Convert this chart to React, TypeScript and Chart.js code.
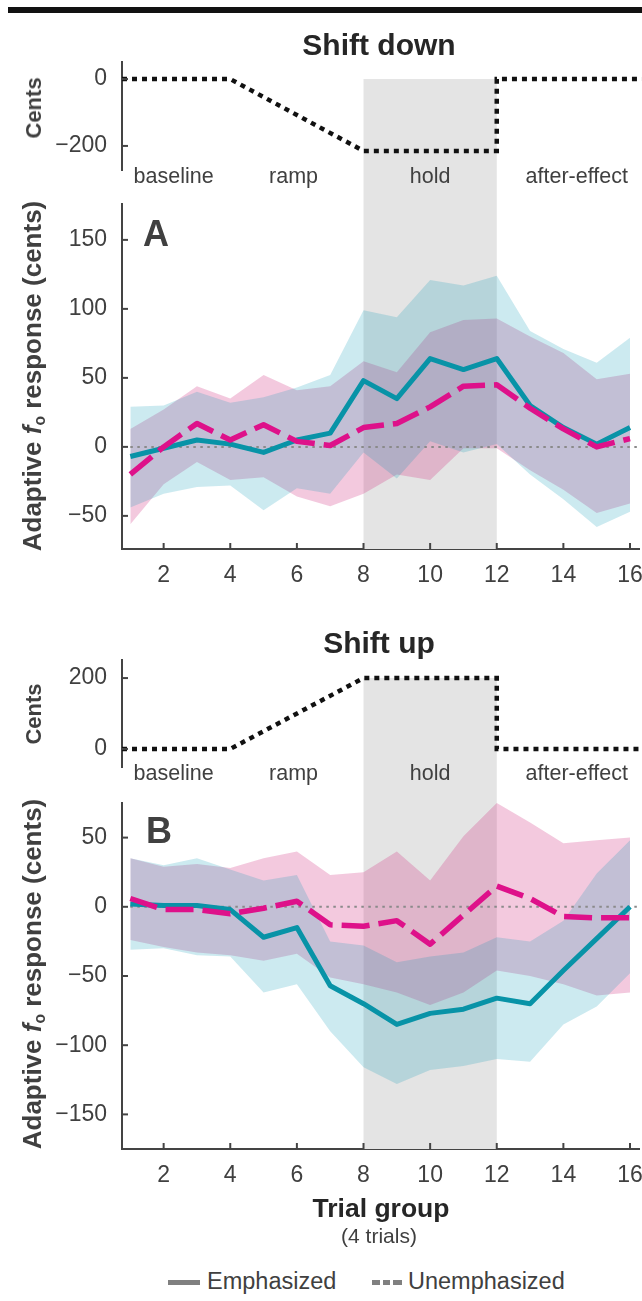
import React, { useEffect, useRef } from "react";
import { Chart, registerables } from "chart.js";

Chart.register(...registerables);

// ---------------- data ----------------
const trialGroups = [1, 2, 3, 4, 5, 6, 7, 8, 9, 10, 11, 12, 13, 14, 15, 16];
const xTickValues = [2, 4, 6, 8, 10, 12, 14, 16];

// Shift down (panel A)
const downEmphMean = [-7, -1, 5, 2, -4, 5, 10, 48, 35, 64, 56, 64, 30, 14, 2, 14];
const downEmphUpper = [29, 30, 40, 32, 36, 43, 52, 99, 94, 121, 117, 124, 84, 71, 61, 79];
const downEmphLower = [-44, -34, -29, -28, -46, -30, -34, -4, -23, 4, -4, 2, -20, -38, -58, -47];
const downUnemMean = [-20, 0, 17, 5, 16, 4, 1, 14, 17, 29, 44, 45, 28, 13, 0, 6];
const downUnemUpper = [13, 27, 44, 35, 52, 41, 44, 62, 54, 83, 92, 93, 80, 68, 49, 53];
const downUnemLower = [-56, -27, -11, -24, -22, -36, -43, -34, -20, -24, -1, -1, -17, -31, -48, -41];

// Shift up (panel B)
const upEmphMean = [2, 1, 1, -2, -22, -15, -57, -70, -85, -77, -74, -66, -70, -46, -23, 0];
const upEmphUpper = [35, 30, 35, 27, 19, 23, -25, -28, -40, -36, -33, -22, -25, -10, 24, 48];
const upEmphLower = [-31, -30, -35, -36, -62, -56, -90, -116, -128, -118, -115, -110, -112, -85, -72, -48];
const upUnemMean = [6, -2, -2, -5, -1, 4, -13, -14, -10, -27, -6, 15, 6, -7, -8, -8];
const upUnemUpper = [35, 29, 31, 28, 35, 40, 23, 25, 40, 19, 51, 75, 61, 46, 48, 50];
const upUnemLower = [-24, -29, -33, -35, -39, -34, -51, -56, -62, -71, -62, -46, -50, -56, -64, -62];

// perturbation schedule (cents)
const pertX = [0.75, 4, 8, 12, 12, 16.4];
const pertDownCents = [0, 0, -215, -215, 0, 0];
const pertUpCents = [0, 0, 200, 200, 0, 0];
const pertDownTicks = [-200, 0];
const pertUpTicks = [0, 200];

const phaseNames = ["baseline", "ramp", "hold", "after-effect"];
const phaseCenters = [2.3, 5.9, 10, 14.4];
const HOLD_START = 8;
const HOLD_END = 12;

const responseTicksDown = [-50, 0, 50, 100, 150];
const responseTicksUp = [-150, -100, -50, 0, 50];

const zeroLineX = [1, 16.27];
const zeroLineY = [0, 0];

// ---------------- style ----------------
const FONT = '"Liberation Sans", Arial, Helvetica, sans-serif';
const TEXT = "#404040";
const TITLE = "#262626";
const AXIS = "#444444";
const TEAL = "#0893A7";
const MAGENTA = "#DE118A";
const TEAL_BAND = "rgba(0,150,180,0.2)";
const PINK_BAND = "rgba(207,39,123,0.25)";
const HOLD_GRAY = "#E4E4E4";
const X_MIN = 0.75;
const X_MAX = 16.27;
const AXIS_LEFT = 122;
const TICK_FONT = { family: FONT, size: 23 };

const minusFmt = (v: any) => {
  const n = Number(v);
  return n < 0 ? "\u2212" + Math.abs(n) : String(n);
};

const pts = (xs: number[], ys: number[]) => xs.map((x, i) => ({ x, y: ys[i] }));

function holdShade(fromValue: number | null, toCanvasBottom: boolean) {
  return {
    id: "holdShade",
    beforeDatasetsDraw(chart: any) {
      const { ctx, chartArea } = chart;
      const xs = chart.scales.x;
      const ys = chart.scales.y;
      const x0 = xs.getPixelForValue(HOLD_START);
      const x1 = xs.getPixelForValue(HOLD_END);
      const top = fromValue === null ? 0 : ys.getPixelForValue(fromValue);
      const bottom = toCanvasBottom ? chart.height : chartArea.bottom;
      ctx.save();
      ctx.fillStyle = HOLD_GRAY;
      ctx.fillRect(x0, top, x1 - x0, bottom - top);
      ctx.restore();
    },
  };
}

function inwardTicks(withX: boolean) {
  return {
    id: "inwardTicks",
    afterDatasetsDraw(chart: any) {
      const { ctx, chartArea } = chart;
      ctx.save();
      ctx.strokeStyle = AXIS;
      ctx.lineWidth = 2;
      const ys = chart.scales.y;
      ys.ticks.forEach((_t: any, i: number) => {
        const p = ys.getPixelForTick(i);
        ctx.beginPath();
        ctx.moveTo(chartArea.left, p);
        ctx.lineTo(chartArea.left + 6, p);
        ctx.stroke();
      });
      if (withX) {
        const xs = chart.scales.x;
        xs.ticks.forEach((_t: any, i: number) => {
          const p = xs.getPixelForTick(i);
          ctx.beginPath();
          ctx.moveTo(p, chartArea.bottom);
          ctx.lineTo(p, chartArea.bottom - 6);
          ctx.stroke();
        });
      }
      ctx.restore();
    },
  };
}

const phaseLabels = {
  id: "phaseLabels",
  afterDraw(chart: any) {
    const { ctx, chartArea } = chart;
    const xs = chart.scales.x;
    ctx.save();
    ctx.font = `21.5px ${FONT}`;
    ctx.fillStyle = TEXT;
    ctx.textAlign = "center";
    ctx.textBaseline = "alphabetic";
    phaseNames.forEach((n, i) => {
      ctx.fillText(n, xs.getPixelForValue(phaseCenters[i]), chartArea.bottom + 13);
    });
    ctx.restore();
  },
};

function yScale(min: number, max: number, ticks: number[]) {
  return {
    type: "linear",
    min,
    max,
    afterBuildTicks: (s: any) => {
      s.ticks = ticks.map((v) => ({ value: v }));
    },
    afterFit: (s: any) => {
      s.width = AXIS_LEFT;
      s.paddingTop = 0;
      s.paddingBottom = 0;
    },
    grid: { display: false },
    border: { display: true, color: AXIS, width: 2 },
    ticks: { font: TICK_FONT, color: TEXT, padding: 7, callback: minusFmt },
  };
}

function makePert(canvas: HTMLCanvasElement, pertY: number[], range: number[], ticks: number[], padTop: number, padBottom: number) {
  return new Chart(canvas, {
    type: "line",
    data: {
      datasets: [
        {
          label: "Perturbation",
          data: pts(pertX, pertY),
          borderColor: "#111111",
          borderWidth: 4.5,
          borderDash: [5, 5],
          pointRadius: 0,
          fill: false,
          clip: false,
          tension: 0,
        } as any,
      ],
    },
    options: {
      responsive: false,
      animation: false,
      events: [],
      layout: { padding: { top: padTop, bottom: padBottom, left: 0, right: 3 } },
      plugins: { legend: { display: false }, tooltip: { enabled: false } },
      scales: {
        x: { type: "linear", display: false, min: X_MIN, max: X_MAX },
        y: yScale(range[0], range[1], ticks) as any,
      },
    },
    plugins: [holdShade(Math.max(...pertY), true), inwardTicks(false), phaseLabels],
  });
}

function makeMain(
  canvas: HTMLCanvasElement,
  emMean: number[], emUp: number[], emLo: number[],
  unMean: number[], unUp: number[], unLo: number[],
  range: number[], ticks: number[]
) {
  const band = (data: number[], color: string, fill: any) => ({
    data: pts(trialGroups, data),
    borderColor: "rgba(0,0,0,0)",
    borderWidth: 0,
    pointRadius: 0,
    backgroundColor: color,
    fill,
    tension: 0,
  });
  return new Chart(canvas, {
    type: "line",
    data: {
      datasets: [
        {
          label: "Unemphasized",
          data: pts(trialGroups, unMean),
          borderColor: MAGENTA,
          borderWidth: 5.5,
          borderDash: [28, 9],
          borderCapStyle: "butt",
          borderJoinStyle: "round",
          pointRadius: 0,
          fill: false,
          tension: 0,
        },
        {
          label: "Emphasized",
          data: pts(trialGroups, emMean),
          borderColor: TEAL,
          borderWidth: 5,
          borderJoinStyle: "round",
          pointRadius: 0,
          fill: false,
          tension: 0,
        },
        {
          label: "zero",
          data: pts(zeroLineX, zeroLineY),
          borderColor: "#8a8a8a",
          borderWidth: 2,
          borderDash: [2.5, 4.5],
          pointRadius: 0,
          fill: false,
        },
        { label: "Emphasized CI upper", ...band(emUp, TEAL_BAND, "+1") },
        { label: "Emphasized CI lower", ...band(emLo, "rgba(0,0,0,0)", false) },
        { label: "Unemphasized CI upper", ...band(unUp, PINK_BAND, "+1") },
        { label: "Unemphasized CI lower", ...band(unLo, "rgba(0,0,0,0)", false) },
      ] as any,
    },
    options: {
      responsive: false,
      animation: false,
      events: [],
      layout: { padding: { top: 8, bottom: 0, left: 0, right: 3 } },
      plugins: { legend: { display: false }, tooltip: { enabled: false } },
      scales: {
        x: {
          type: "linear",
          min: X_MIN,
          max: X_MAX,
          afterBuildTicks: (s: any) => {
            s.ticks = xTickValues.map((v) => ({ value: v }));
          },
          afterFit: (s: any) => {
            s.height = 47;
            s.paddingLeft = 0;
            s.paddingRight = 0;
          },
          grid: { display: false },
          border: { display: true, color: AXIS, width: 2 },
          ticks: { font: TICK_FONT, color: TEXT, padding: 5, maxRotation: 0, autoSkip: false },
        } as any,
        y: yScale(range[0], range[1], ticks) as any,
      },
    },
    plugins: [holdShade(null, false), inwardTicks(true)],
  });
}

// ---------------- layout ----------------
const PERT_A = { top: 56, h: 140 };
const MAIN_A = { top: 196, h: 400 };
const PERT_B = { top: 655, h: 140 };
const MAIN_B = { top: 795, h: 401 };

function Label(props: { x: number; y: number; size: number; bold?: boolean; color?: string; children: any }) {
  const { x, y, size, bold, color, children } = props;
  return (
    <div
      style={{
        position: "absolute",
        left: x,
        top: y - 0.846 * size,
        transform: "translateX(-50%)",
        fontSize: size,
        fontWeight: bold ? 700 : 400,
        lineHeight: 1,
        whiteSpace: "nowrap",
        color: color || TEXT,
      }}
    >
      {children}
    </div>
  );
}

function VLabel(props: { x: number; y: number; size: number; children: any }) {
  const { x, y, size, children } = props;
  return (
    <div
      style={{
        position: "absolute",
        left: x,
        top: y,
        transform: "translate(-50%, -50%) rotate(-90deg)",
        fontSize: size,
        fontWeight: 700,
        lineHeight: 1,
        whiteSpace: "nowrap",
        color: TEXT,
      }}
    >
      {children}
    </div>
  );
}

const canvasStyle = (top: number, h: number): React.CSSProperties => ({
  position: "absolute",
  left: 0,
  top,
  width: 642,
  height: h,
});

export default function App() {
  const pertARef = useRef<HTMLCanvasElement>(null);
  const mainARef = useRef<HTMLCanvasElement>(null);
  const pertBRef = useRef<HTMLCanvasElement>(null);
  const mainBRef = useRef<HTMLCanvasElement>(null);

  useEffect(() => {
    const charts = [
      makePert(pertARef.current!, pertDownCents, [-272, 51], pertDownTicks, 6, 26),
      makeMain(mainARef.current!, downEmphMean, downEmphUpper, downEmphLower, downUnemMean, downUnemUpper, downUnemLower, [-74, 176], responseTicksDown),
      makePert(pertBRef.current!, pertUpCents, [-51, 251], pertUpTicks, 5, 28),
      makeMain(mainBRef.current!, upEmphMean, upEmphUpper, upEmphLower, upUnemMean, upUnemUpper, upUnemLower, [-175, 75], responseTicksUp),
    ];
    return () => charts.forEach((c) => c.destroy());
  }, []);

  const yTitle = (
    <>
      Adaptive <i>f</i>
      <sub style={{ fontSize: "0.6em", verticalAlign: "-0.25em" }}>o</sub> response (cents)
    </>
  );

  const sample = (left: number, width: number): React.CSSProperties => ({
    position: "absolute",
    left,
    top: 1279.5,
    width,
    height: 5,
    background: "#808080",
  });

  return (
    <div
      style={{
        position: "absolute",
        left: 0,
        top: 0,
        width: 642,
        height: 1301,
        background: "#ffffff",
        fontFamily: FONT,
        overflow: "hidden",
      }}
    >
      <div style={{ position: "absolute", left: 8, top: 7, width: 634, height: 6, background: "#111" }} />

      <canvas ref={pertARef} width={642} height={PERT_A.h} style={canvasStyle(PERT_A.top, PERT_A.h)} />
      <canvas ref={mainARef} width={642} height={MAIN_A.h} style={canvasStyle(MAIN_A.top, MAIN_A.h)} />
      <canvas ref={pertBRef} width={642} height={PERT_B.h} style={canvasStyle(PERT_B.top, PERT_B.h)} />
      <canvas ref={mainBRef} width={642} height={MAIN_B.h} style={canvasStyle(MAIN_B.top, MAIN_B.h)} />

      <Label x={379} y={55} size={30} bold color={TITLE}>Shift down</Label>
      <Label x={379} y={653} size={30} bold color={TITLE}>Shift up</Label>

      <VLabel x={34} y={108} size={22}>Cents</VLabel>
      <VLabel x={34} y={714} size={22}>Cents</VLabel>
      <VLabel x={33} y={376} size={26}>{yTitle}</VLabel>
      <VLabel x={33} y={974} size={26}>{yTitle}</VLabel>

      <div style={{ position: "absolute", left: 143, top: 246 - 0.846 * 36, fontSize: 36, fontWeight: 700, lineHeight: 1, color: "#404040" }}>A</div>
      <div style={{ position: "absolute", left: 146, top: 843 - 0.846 * 36, fontSize: 36, fontWeight: 700, lineHeight: 1, color: "#404040" }}>B</div>

      <Label x={381} y={1217} size={26.5} bold color={TITLE}>Trial group</Label>
      <Label x={379} y={1243} size={21}>(4 trials)</Label>

      <div style={sample(168, 32)} />
      <div style={{ position: "absolute", left: 207, top: 1290 - 0.846 * 23.5, fontSize: 23.5, lineHeight: 1, color: TEXT, whiteSpace: "nowrap" }}>Emphasized</div>
      <div style={sample(372, 8)} />
      <div style={sample(383, 7)} />
      <div style={sample(393, 9)} />
      <div style={{ position: "absolute", left: 408, top: 1290 - 0.846 * 23.5, fontSize: 23.5, lineHeight: 1, color: TEXT, whiteSpace: "nowrap" }}>Unemphasized</div>
    </div>
  );
}
